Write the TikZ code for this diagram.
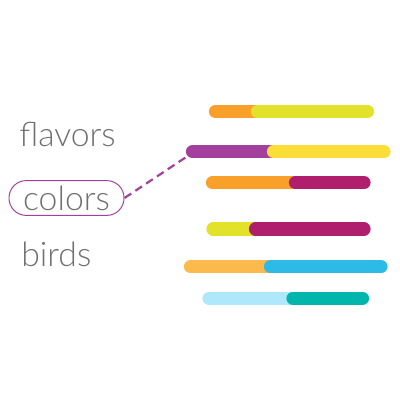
\documentclass[tikz,border=0pt]{standalone}
\usepackage{fontspec}
\setmainfont{Lato Light}
\definecolor{txtgray}{HTML}{707070}
\definecolor{barorange}{HTML}{F8A02A}
\definecolor{barlime}{HTML}{E2E22A}
\definecolor{barpurple}{HTML}{A3409E}
\definecolor{baryellow}{HTML}{FDDD38}
\definecolor{barmagenta}{HTML}{B01F6E}
\definecolor{barpeach}{HTML}{FBBA4B}
\definecolor{barblue}{HTML}{2EBAE6}
\definecolor{barsky}{HTML}{AFE8FA}
\definecolor{barteal}{HTML}{00B6AC}
\tikzset{
    word/.style={text=txtgray, font=\fontsize{24}{28}\selectfont, inner sep=0pt, anchor=base west},
    pill/.style={draw=barpurple, line width=0.7pt, rounded corners=4.3mm,
        minimum width=28.75mm, minimum height=8.7mm, inner sep=0pt},
    bar/.style={line width=3.3mm, line cap=round},
    link/.style={draw=barpurple, line width=0.55mm, dash pattern=on 2mm off 1.25mm}
}
\begin{document}
\begin{tikzpicture}[x=0.25mm, y=-0.25mm]
    \useasboundingbox (0,0) rectangle (400,400);

    % category labels
    \node[word] (flavors) at (19,146.7) {flavors};
    \node[pill, text=txtgray, font=\fontsize{24}{28}\selectfont] (colors) at (66.5,198) {colors};
    \node[word] (birds) at (21,266.7) {birds};

    % bars: y / start / split / end / left colour / right colour
    \foreach \y/\xs/\xm/\xe/\ca/\cb in {
        111.5/209/251/374/barorange/barlime,
        151.7/186/267/390.5/barpurple/baryellow,
        182.7/206/289/370.5/barorange/barmagenta,
        229/206.5/249/370.5/barlime/barmagenta,
        266.7/184/264/387.5/barpeach/barblue,
        298.3/202.5/286.5/369/barsky/barteal} {
        \draw[bar, \ca] (\xs+6.5,\y) -- (\xm+6.5,\y);
        \draw[bar, \cb] (\xm+6.5,\y) -- (\xe-6.5,\y);
    }

    % link from label to its bar
    \coordinate (colorbar) at (187,156.5);
    \draw[link] (colors.east) -- (colorbar);
\end{tikzpicture}
\end{document}
